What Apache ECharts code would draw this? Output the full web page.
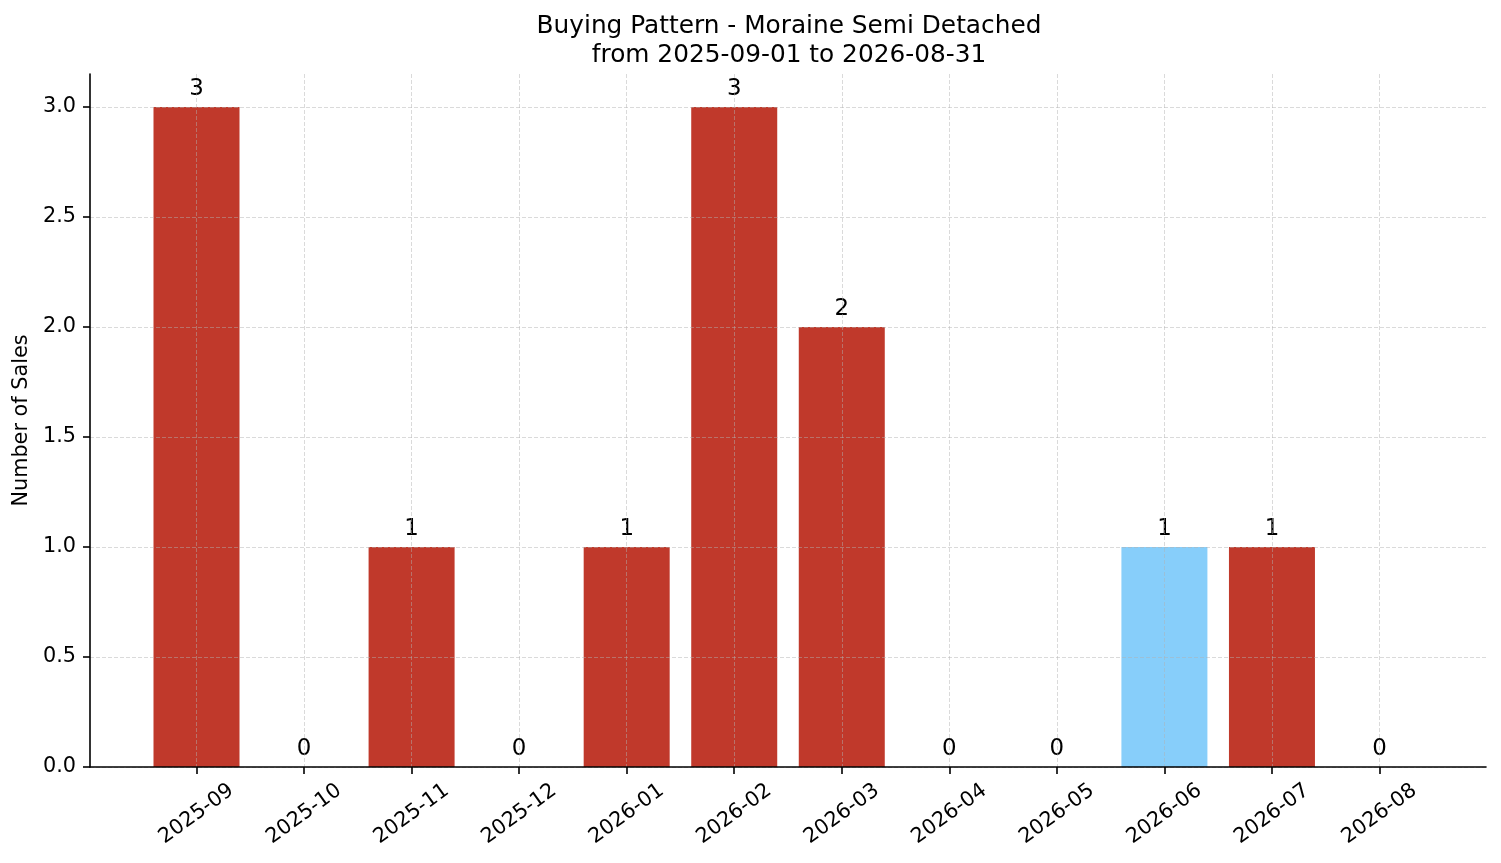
<!DOCTYPE html>
<html>
<head>
    <meta charset="utf-8">
    <title>Buying Pattern</title>
    <script src="https://cdn.jsdelivr.net/npm/echarts@6.0.0/dist/echarts.min.js"></script>
</head>
<body style="margin:0">
    <div id="main" style="width: 1501px;height:863px;"></div>
    <script type="text/javascript">
        // data
        var months = ['2025-09', '2025-10', '2025-11', '2025-12', '2026-01', '2026-02',
            '2026-03', '2026-04', '2026-05', '2026-06', '2026-07', '2026-08'];
        var sales = [3, 0, 1, 0, 1, 3, 2, 0, 0, 1, 1, 0];
        var yTicks = [0, 0.5, 1.0, 1.5, 2.0, 2.5, 3.0];
        var highlightMonth = '2026-06';

        var font = 'DejaVu Sans';
        var gridLine = {
            show: true,
            lineStyle: { color: 'rgba(176,176,176,0.6)', width: 0.8, type: [4, 2] }
        };

        var chartDom = document.getElementById('main');
        var myChart = echarts.init(chartDom);

        var option = {
            animation: false,
            textStyle: { fontFamily: font },
            title: {
                text: 'Buying Pattern - Moraine Semi Detached\nfrom 2025-09-01 to 2026-08-31',
                left: 784,
                top: 7,
                textAlign: 'center',
                textStyle: { fontSize: 24.8, fontWeight: 'normal', color: '#000', lineHeight: 29, fontFamily: font }
            },
            grid: [
                // full frame (spines + horizontal grid)
                { left: 90, right: 15, top: 74, bottom: 96 },
                // category area, centres at first/last bar
                { left: 196.5, right: 121.5, top: 74, bottom: 96 }
            ],
            xAxis: [
                {
                    gridIndex: 0, type: 'value', min: 0, max: 1, z: 3,
                    axisLine: { show: true, lineStyle: { color: '#000', width: 1.6 } },
                    axisTick: { show: false }, axisLabel: { show: false }, splitLine: { show: false }
                },
                {
                    gridIndex: 1, type: 'category', data: months, boundaryGap: false, z: 3,
                    axisLine: { show: false },
                    axisTick: { show: true, length: 7, lineStyle: { color: '#000', width: 1.6 } },
                    axisLabel: {
                        interval: 0, rotate: 36, margin: 47, align: 'center', verticalAlign: 'middle',
                        fontSize: 20.8, color: '#000', fontFamily: font
                    },
                    splitLine: gridLine
                }
            ],
            yAxis: [
                {
                    gridIndex: 0, type: 'value', min: 0, max: 3.15, z: 3,
                    name: 'Number of Sales', nameLocation: 'middle', nameGap: 56,
                    nameTextStyle: { fontSize: 20.8, color: '#000', fontFamily: font },
                    axisLine: { show: true, lineStyle: { color: '#000', width: 1.6 } },
                    axisTick: { show: true, length: 7, customValues: yTicks, lineStyle: { color: '#000', width: 1.6 } },
                    axisLabel: {
                        customValues: yTicks, margin: 14, fontSize: 20.8, color: '#000', fontFamily: font,
                        formatter: function (v) { return v.toFixed(1); }
                    },
                    splitLine: gridLine
                },
                {
                    gridIndex: 1, type: 'value', min: 0, max: 3.15, show: false
                }
            ],
            series: [{
                type: 'bar',
                xAxisIndex: 1,
                yAxisIndex: 1,
                barWidth: 86,
                clip: false,
                z: 2,
                data: sales.map(function (v, i) {
                    return {
                        value: v,
                        itemStyle: { color: months[i] === highlightMonth ? '#87cefa' : '#c0392b' }
                    };
                }),
                label: {
                    show: true, position: 'top', distance: 6,
                    fontSize: 22.9, color: '#000', fontFamily: font
                }
            }]
        };

        option && myChart.setOption(option);
    </script>
</body>
</html>
